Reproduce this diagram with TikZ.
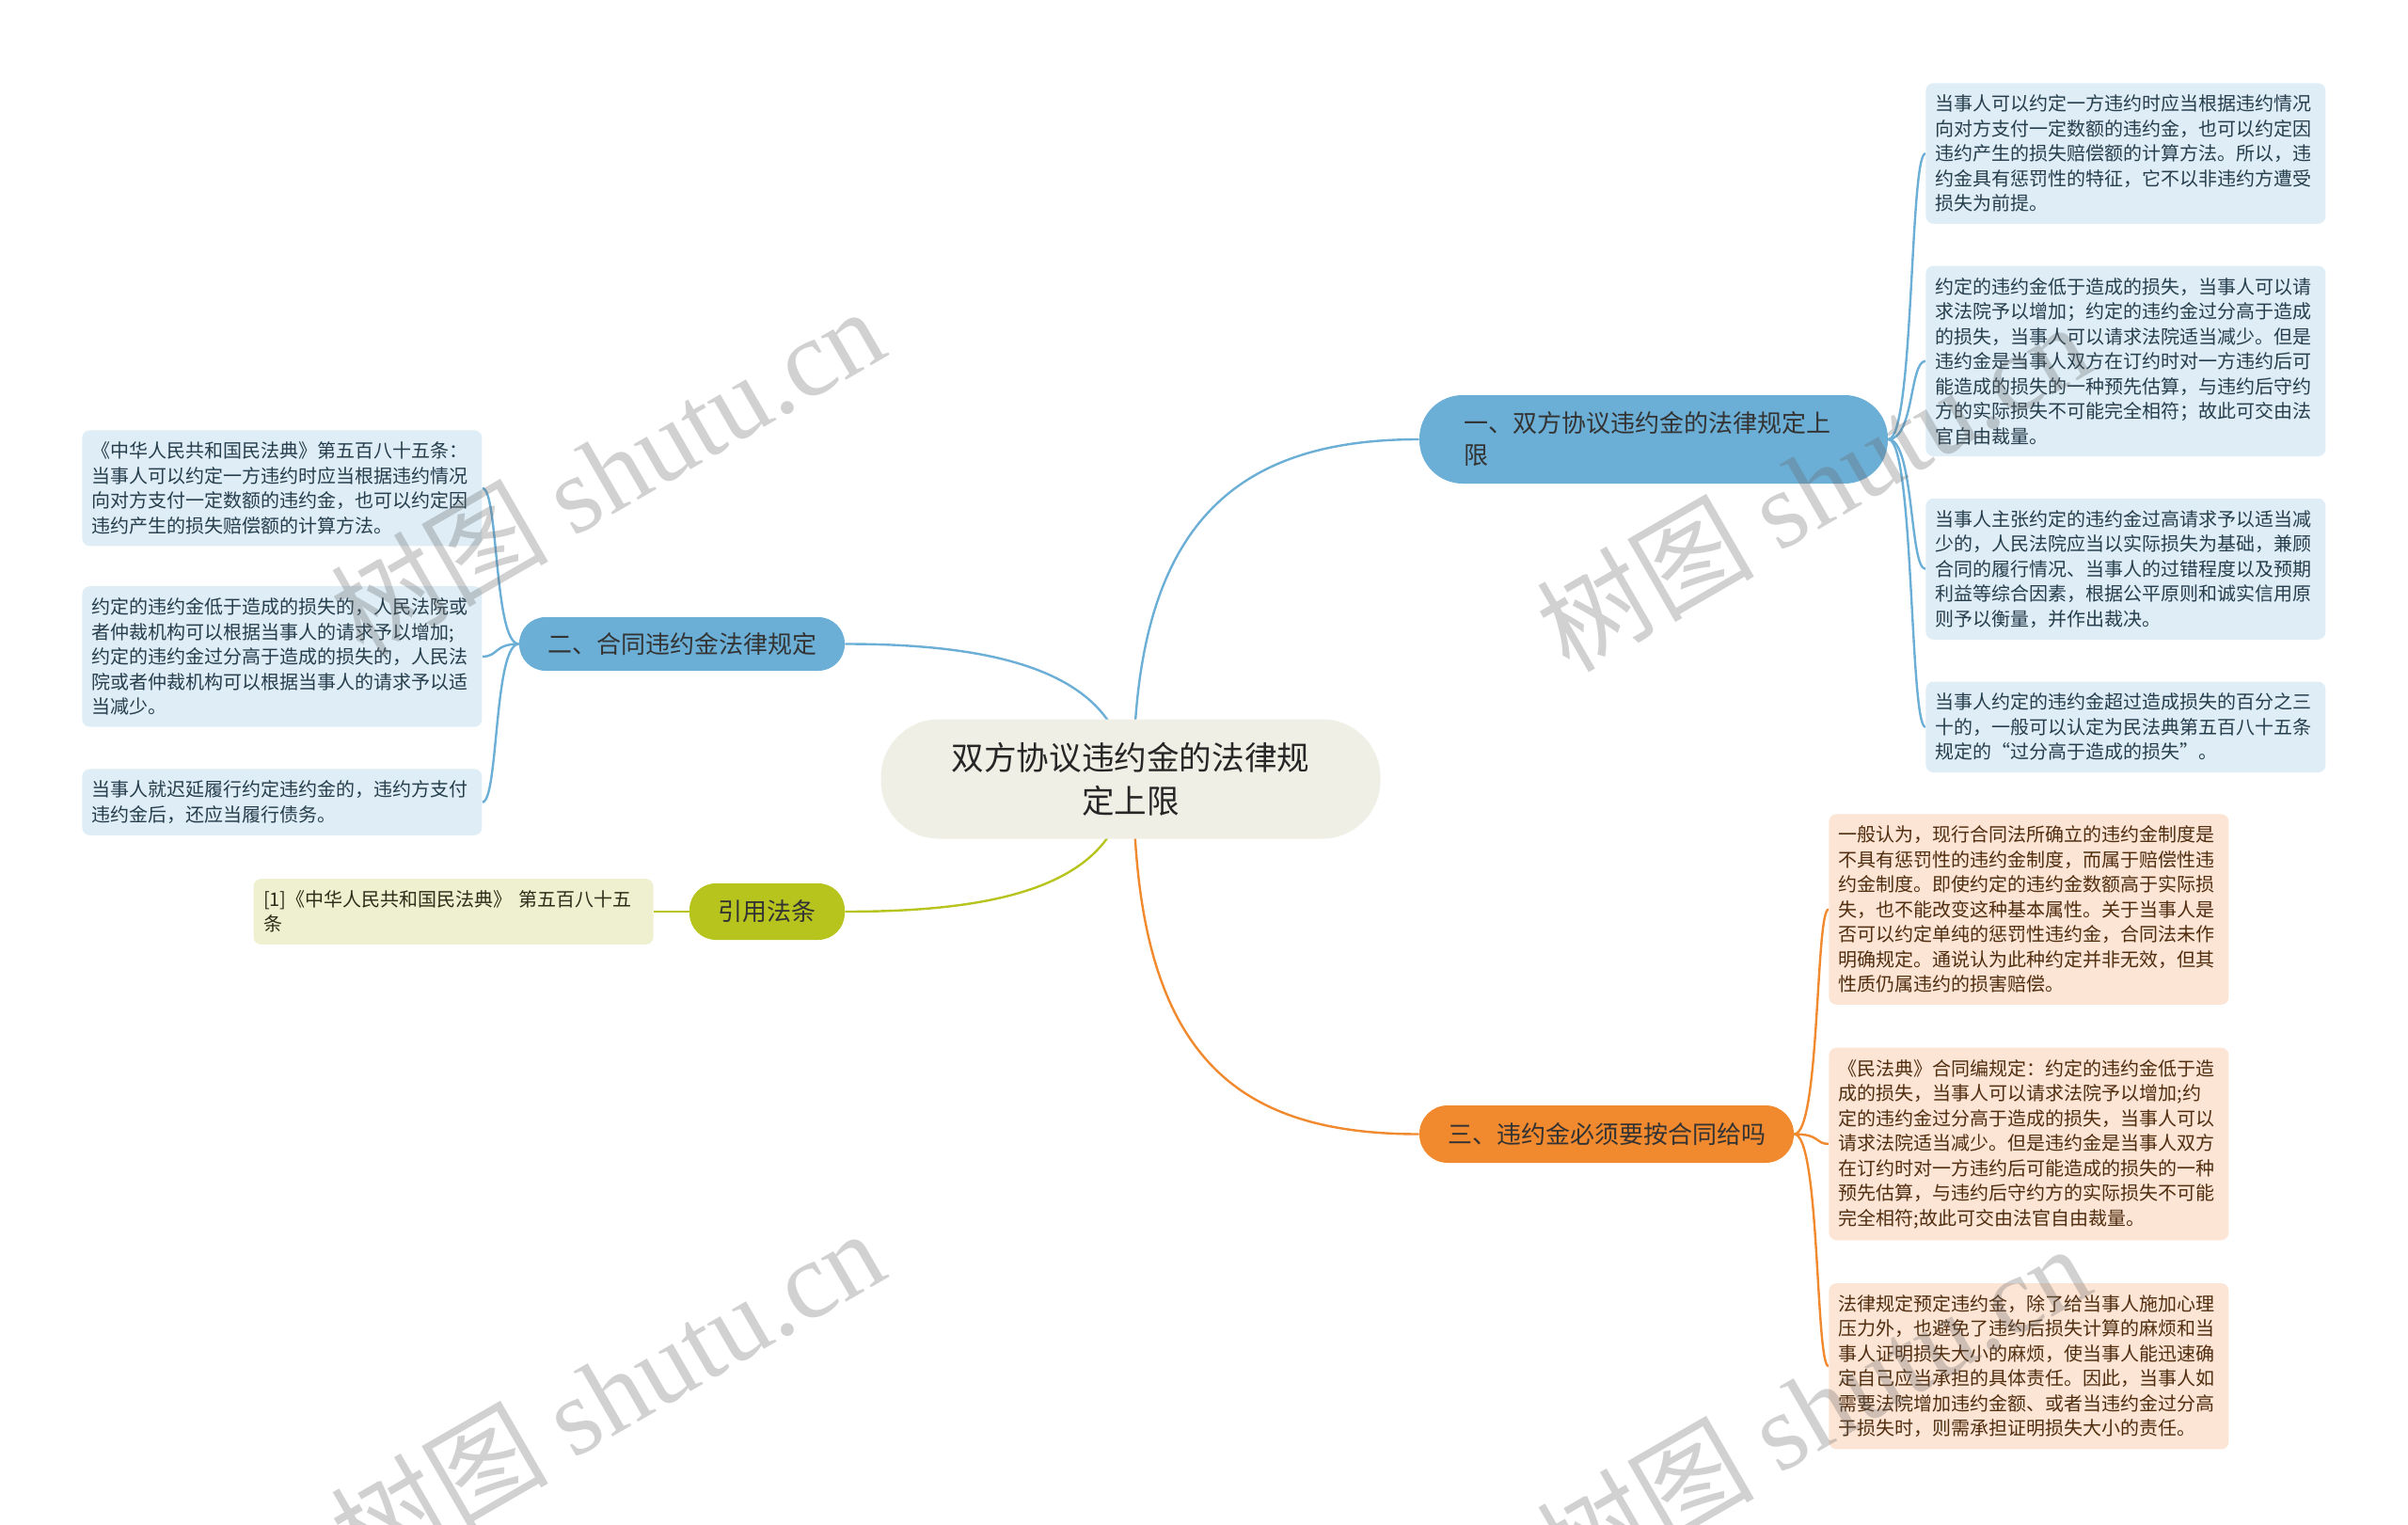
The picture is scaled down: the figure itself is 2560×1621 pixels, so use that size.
\documentclass[tikz,border=0pt]{standalone}
\usepackage{fontspec}
\setmainfont{Noto Sans CJK SC}
\newfontfamily\wmlatin{Liberation Serif}
\usetikzlibrary{positioning,backgrounds}
\definecolor{rootfill}{RGB}{239,239,229}
\definecolor{topicblue}{RGB}{108,175,214}
\definecolor{leafblue}{RGB}{222,237,246}
\definecolor{textblue}{RGB}{38,62,76}
\definecolor{topicgreen}{RGB}{183,196,30}
\definecolor{leafgreen}{RGB}{239,240,207}
\definecolor{textgreen}{RGB}{45,45,25}
\definecolor{topicorange}{RGB}{241,137,46}
\definecolor{leaforange}{RGB}{252,229,213}
\definecolor{textorange}{RGB}{80,45,15}
\tikzset{
    root/.style={rounded corners=31pt,fill=rootfill,minimum width=265.5pt,minimum height=63.5pt,align=center,font=\fontsize{17.3}{23}\selectfont,text=black!85},
    topic/.style={rounded corners=14pt,minimum height=28.5pt,inner sep=0pt,font=\fontsize{13}{17}\selectfont,text=black!80},
    leaf/.style={rounded corners=4pt,text width=202pt,inner xsep=5.25pt,inner ysep=6.2pt,align=left,font=\fontsize{10}{13.25}\selectfont},
    bleaf/.style={leaf,fill=leafblue,text=textblue},
    gleaf/.style={leaf,fill=leafgreen,text=textgreen},
    oleaf/.style={leaf,fill=leaforange,text=textorange},
    link/.style={line width=1.2pt},
    wmark/.style={rotate=30,text=black!60,opacity=0.3,font=\fontsize{58}{58}\selectfont}
}

\begin{document}
\begin{tikzpicture}[x=0.5pt,y=-0.5pt]
\useasboundingbox (0,0) rectangle (2560,1621);
\node[root] (root) at (1202,828) {双方协议违约金的法律规\\定上限};

\node[topic,fill=topicblue,minimum width=249pt,minimum height=47pt,rounded corners=23pt,text width=202pt,inner xsep=23.5pt,align=left] (law) at (1758,467) {一、双方协议违约金的法律规定上\\限};
\node[topic,fill=topicblue,minimum width=173pt] (rule) at (725,684.5) {二、合同违约金法律规定};
\node[topic,fill=topicgreen,minimum width=82.5pt,minimum height=30pt] (cite) at (815.5,969) {引用法条};
\node[topic,fill=topicorange,minimum width=199pt,minimum height=30.5pt,rounded corners=15pt] (pay) at (1708,1205.5) {三、违约金必须要按合同给吗};

\node[bleaf,anchor=north west] (law1) at (2047,88) {当事人可以约定一方违约时应当根据违约情况\\向对方支付一定数额的违约金，也可以约定因\\违约产生的损失赔偿额的计算方法。所以，违\\约金具有惩罚性的特征，它不以非违约方遭受\\损失为前提。};
\node[bleaf] (law2) [below=22pt of law1] {约定的违约金低于造成的损失，当事人可以请\\求法院予以增加；约定的违约金过分高于造成\\的损失，当事人可以请求法院适当减少。但是\\违约金是当事人双方在订约时对一方违约后可\\能造成的损失的一种预先估算，与违约后守约\\方的实际损失不可能完全相符；故此可交由法\\官自由裁量。};
\node[bleaf] (law3) [below=22pt of law2] {当事人主张约定的违约金过高请求予以适当减\\少的，人民法院应当以实际损失为基础，兼顾\\合同的履行情况、当事人的过错程度以及预期\\利益等综合因素，根据公平原则和诚实信用原\\则予以衡量，并作出裁决。};
\node[bleaf] (law4) [below=22pt of law3] {当事人约定的违约金超过造成损失的百分之三\\十的，一般可以认定为民法典第五百八十五条\\规定的“过分高于造成的损失”。};

\node[bleaf,anchor=north west] (rule1) at (87,457) {《中华人民共和国民法典》第五百八十五条：\\当事人可以约定一方违约时应当根据违约情况\\向对方支付一定数额的违约金，也可以约定因\\违约产生的损失赔偿额的计算方法。};
\node[bleaf] (rule2) [below=21pt of rule1] {约定的违约金低于造成的损失的，人民法院或\\者仲裁机构可以根据当事人的请求予以增加;\\约定的违约金过分高于造成的损失的，人民法\\院或者仲裁机构可以根据当事人的请求予以适\\当减少。};
\node[bleaf] (rule3) [below=22pt of rule2] {当事人就迟延履行约定违约金的，违约方支付\\违约金后，还应当履行债务。};

\node[gleaf] (cite1) at (482,969) {[1]《中华人民共和国民法典》 第五百八十五\\条};

\node[oleaf,anchor=north west] (pay1) at (1944,865) {一般认为，现行合同法所确立的违约金制度是\\不具有惩罚性的违约金制度，而属于赔偿性违\\约金制度。即使约定的违约金数额高于实际损\\失，也不能改变这种基本属性。关于当事人是\\否可以约定单纯的惩罚性违约金，合同法未作\\明确规定。通说认为此种约定并非无效，但其\\性质仍属违约的损害赔偿。};
\node[oleaf] (pay2) [below=22.5pt of pay1] {《民法典》合同编规定：约定的违约金低于造\\成的损失，当事人可以请求法院予以增加;约\\定的违约金过分高于造成的损失，当事人可以\\请求法院适当减少。但是违约金是当事人双方\\在订约时对一方违约后可能造成的损失的一种\\预先估算，与违约后守约方的实际损失不可能\\完全相符;故此可交由法官自由裁量。};
\node[oleaf] (pay3) [below=22.5pt of pay2] {法律规定预定违约金，除了给当事人施加心理\\压力外，也避免了违约后损失计算的麻烦和当\\事人证明损失大小的麻烦，使当事人能迅速确\\定自己应当承担的具体责任。因此，当事人如\\需要法院增加违约金额、或者当违约金过分高\\于损失时，则需承担证明损失大小的责任。};

\begin{pgfonlayer}{background}
\draw[link,topicblue] ([xshift=1.5pt]root.center) .. controls (1205,560) and (1310,467) .. (law.west);
\draw[link,topicblue] ([xshift=-2pt]root.center) .. controls (1192,710) and (1050,684.5) .. (rule.east);
\draw[link,topicgreen] ([xshift=-2pt]root.center) .. controls (1192,946) and (1050,969) .. (cite.east);
\draw[link,topicorange] ([xshift=1.5pt]root.center) .. controls (1205,1120) and (1310,1205.5) .. (pay.west);
\foreach \n in {law1,law2,law3,law4}
    \draw[link,topicblue] (law.east) .. controls (2035,467) and (2030,0|-\n.west) .. (\n.west);
\foreach \n in {rule1,rule2,rule3}
    \draw[link,topicblue] (rule.west) .. controls (525,684.5) and (530,0|-\n.east) .. (\n.east);
\draw[link,topicgreen] (cite.west) -- (cite1.east);
\foreach \n in {pay1,pay2,pay3}
    \draw[link,topicorange] (pay.east) .. controls (1935,1205.5) and (1930,0|-\n.west) .. (\n.west);
\end{pgfonlayer}

\node[wmark] (wm1) at (645,500) {树图 {\wmlatin shutu.cn}};
\node[wmark] (wm2) at (1927,516) {树图 {\wmlatin shutu.cn}};
\node[wmark] (wm3) at (645,1480) {树图 {\wmlatin shutu.cn}};
\node[wmark] (wm4) at (1927,1496) {树图 {\wmlatin shutu.cn}};
\end{tikzpicture}
\end{document}
